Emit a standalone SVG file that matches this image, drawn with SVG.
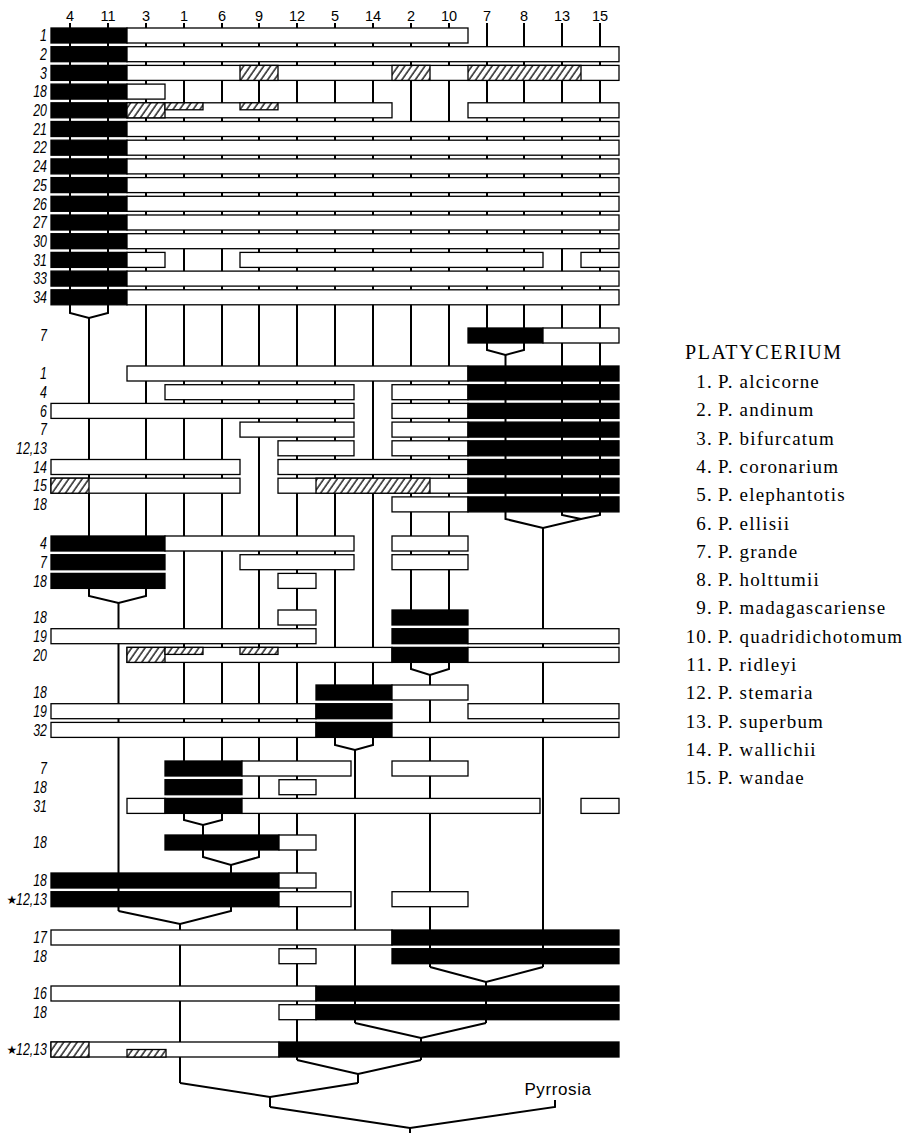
<svg xmlns="http://www.w3.org/2000/svg" width="924" height="1133" viewBox="0 0 924 1133">
<defs>
<pattern id="hatch" patternUnits="userSpaceOnUse" width="5.5" height="5.5" patternTransform="rotate(35)">
<rect width="5.5" height="5.5" fill="#fff"/>
<line x1="1" y1="0" x2="1" y2="5.5" stroke="#000" stroke-width="1.3"/>
</pattern>
</defs>
<style>
.w{fill:#fff;stroke:#000;stroke-width:1.3}
.b{fill:#000;stroke:#000;stroke-width:1.3}
.h{fill:url(#hatch);stroke:#000;stroke-width:1.3}
.v{stroke:#000;stroke-width:2;fill:none}
.k{stroke:#000;stroke-width:2;fill:none;stroke-linejoin:miter}
.hd{font-family:"Liberation Sans",Arial,sans-serif;font-size:14.5px;text-anchor:middle;fill:#000}
.lb{font-family:"Liberation Sans",Arial,sans-serif;font-size:16.5px;font-style:italic;text-anchor:end;fill:#000}
.st{font-family:"DejaVu Sans",sans-serif;font-size:12px;text-anchor:middle;fill:#000}
.lg{font-family:"Liberation Serif","Times New Roman",serif;font-size:19px;letter-spacing:1.2px;fill:#000}
.lgt{font-family:"Liberation Serif","Times New Roman",serif;font-size:20px;letter-spacing:1.6px;fill:#000}
.py{font-family:"Liberation Sans",Arial,sans-serif;font-size:17px;letter-spacing:0.6px;text-anchor:middle;fill:#000}
</style>
<rect width="924" height="1133" fill="#fff"/>

<g id="header">
<text class="hd" x="70" y="21">4</text>
<text class="hd" x="108" y="21">11</text>
<text class="hd" x="146" y="21">3</text>
<text class="hd" x="184" y="21">1</text>
<text class="hd" x="222" y="21">6</text>
<text class="hd" x="259" y="21">9</text>
<text class="hd" x="297" y="21">12</text>
<text class="hd" x="335" y="21">5</text>
<text class="hd" x="373" y="21">14</text>
<text class="hd" x="411" y="21">2</text>
<text class="hd" x="449" y="21">10</text>
<text class="hd" x="487" y="21">7</text>
<text class="hd" x="524" y="21">8</text>
<text class="hd" x="562" y="21">13</text>
<text class="hd" x="600" y="21">15</text>
</g>

<g id="connectors">
<line class="v" x1="70" y1="23" x2="70" y2="305"/>
<line class="v" x1="108" y1="23" x2="108" y2="305"/>
<line class="v" x1="146" y1="23" x2="146" y2="536"/>
<line class="v" x1="184" y1="23" x2="184" y2="761"/>
<line class="v" x1="222" y1="23" x2="222" y2="761"/>
<line class="v" x1="259" y1="23" x2="259" y2="835"/>
<line class="v" x1="297" y1="23" x2="297" y2="1060"/>
<line class="v" x1="335" y1="23" x2="335" y2="685"/>
<line class="v" x1="373" y1="23" x2="373" y2="685"/>
<line class="v" x1="411" y1="23" x2="411" y2="610"/>
<line class="v" x1="449" y1="23" x2="449" y2="610"/>
<line class="v" x1="487" y1="23" x2="487" y2="328"/>
<line class="v" x1="524" y1="23" x2="524" y2="328"/>
<line class="v" x1="562" y1="23" x2="562" y2="512"/>
<line class="v" x1="600" y1="23" x2="600" y2="512"/>
<path class="k" d="M70,305 V313 L89,318 L108,313 V305"/>
<line class="v" x1="89" y1="318" x2="89" y2="536"/>
<path class="k" d="M487,343 V350 L505.5,355 L524,350 V343"/>
<line class="v" x1="505.5" y1="355" x2="505.5" y2="512"/>
<path class="k" d="M505.5,512 V519 L543,528 L581,519 L562,515 V512 M581,519 L600,515 V512"/>
<line class="v" x1="543" y1="528" x2="543" y2="967"/>
<path class="k" d="M89,588.4 V596 L118.5,603 L146,596 V588.4"/>
<line class="v" x1="118.5" y1="603" x2="118.5" y2="911"/>
<path class="k" d="M411,662.4 V669 L430,675 L449,669 V662.4"/>
<line class="v" x1="430" y1="675" x2="430" y2="967"/>
<path class="k" d="M335,737.4 V745 L355,750 L373,745 V737.4"/>
<line class="v" x1="355" y1="750" x2="355" y2="1023"/>
<path class="k" d="M184,813.4 V820 L203,825 L222,820 V813.4"/>
<line class="v" x1="203" y1="825" x2="203" y2="835"/>
<path class="k" d="M203,850 V857 L231,865 L259,857 V850"/>
<line class="v" x1="231" y1="865" x2="231" y2="873"/>
<path class="k" d="M118.5,911 L180,924 L231,911 V906.7"/>
<line class="v" x1="180" y1="924" x2="180" y2="1083"/>
<path class="k" d="M430,967 L486,982 L543,967"/>
<line class="v" x1="486" y1="982" x2="486" y2="1023"/>
<path class="k" d="M355,1023 L421,1038 L486,1023"/>
<line class="v" x1="421" y1="1038" x2="421" y2="1060"/>
<path class="k" d="M297,1060 L358,1074 L421,1060"/>
<line class="v" x1="358" y1="1074" x2="358" y2="1083"/>
<path class="k" d="M180,1083 L270,1097 L358,1083"/>
<line class="v" x1="270" y1="1097" x2="270" y2="1107"/>
<path class="k" d="M270,1107 L410,1128 L555,1107 V1100"/>
<line class="v" x1="410" y1="1128" x2="410" y2="1133"/>
</g>

<g id="t1"><rect class="b" x="51" y="28" width="76" height="15"/><rect class="w" x="127" y="28" width="341" height="15"/><text class="lb" transform="translate(47,41.2) scale(0.75,1)">1</text></g>
<g id="t2"><rect class="b" x="51" y="46.7" width="76" height="15"/><rect class="w" x="127" y="46.7" width="492" height="15"/><text class="lb" transform="translate(47,59.9) scale(0.75,1)">2</text></g>
<g id="t3"><rect class="b" x="51" y="65.4" width="76" height="15"/><rect class="w" x="127" y="65.4" width="492" height="15"/><rect class="h" x="240" y="65.4" width="38" height="15"/><rect class="h" x="392" y="65.4" width="38" height="15"/><rect class="h" x="468" y="65.4" width="113" height="15"/><text class="lb" transform="translate(47,78.6) scale(0.75,1)">3</text></g>
<g id="t18"><rect class="b" x="51" y="84.1" width="76" height="15"/><rect class="w" x="127" y="84.1" width="38" height="15"/><text class="lb" transform="translate(47,97.3) scale(0.75,1)">18</text></g>
<g id="t20"><rect class="b" x="51" y="102.8" width="76" height="15"/><rect class="w" x="127" y="102.8" width="265" height="15"/><rect class="h" x="127" y="102.8" width="38" height="15"/><rect class="h" x="165" y="102.8" width="38" height="7"/><rect class="h" x="240" y="102.8" width="38" height="7"/><rect class="w" x="468" y="102.8" width="151" height="15"/><text class="lb" transform="translate(47,116) scale(0.75,1)">20</text></g>
<g id="t21"><rect class="b" x="51" y="121.5" width="76" height="15"/><rect class="w" x="127" y="121.5" width="492" height="15"/><text class="lb" transform="translate(47,134.7) scale(0.75,1)">21</text></g>
<g id="t22"><rect class="b" x="51" y="140.2" width="76" height="15"/><rect class="w" x="127" y="140.2" width="492" height="15"/><text class="lb" transform="translate(47,153.4) scale(0.75,1)">22</text></g>
<g id="t24"><rect class="b" x="51" y="158.9" width="76" height="15"/><rect class="w" x="127" y="158.9" width="492" height="15"/><text class="lb" transform="translate(47,172.1) scale(0.75,1)">24</text></g>
<g id="t25"><rect class="b" x="51" y="177.6" width="76" height="15"/><rect class="w" x="127" y="177.6" width="492" height="15"/><text class="lb" transform="translate(47,190.8) scale(0.75,1)">25</text></g>
<g id="t26"><rect class="b" x="51" y="196.3" width="76" height="15"/><rect class="w" x="127" y="196.3" width="492" height="15"/><text class="lb" transform="translate(47,209.5) scale(0.75,1)">26</text></g>
<g id="t27"><rect class="b" x="51" y="215" width="76" height="15"/><rect class="w" x="127" y="215" width="492" height="15"/><text class="lb" transform="translate(47,228.2) scale(0.75,1)">27</text></g>
<g id="t30"><rect class="b" x="51" y="233.7" width="76" height="15"/><rect class="w" x="127" y="233.7" width="492" height="15"/><text class="lb" transform="translate(47,246.9) scale(0.75,1)">30</text></g>
<g id="t31"><rect class="b" x="51" y="252.4" width="76" height="15"/><rect class="w" x="127" y="252.4" width="38" height="15"/><rect class="w" x="240" y="252.4" width="303" height="15"/><rect class="w" x="581" y="252.4" width="38" height="15"/><text class="lb" transform="translate(47,265.6) scale(0.75,1)">31</text></g>
<g id="t33"><rect class="b" x="51" y="271.1" width="76" height="15"/><rect class="w" x="127" y="271.1" width="492" height="15"/><text class="lb" transform="translate(47,284.3) scale(0.75,1)">33</text></g>
<g id="t34"><rect class="b" x="51" y="289.8" width="76" height="15"/><rect class="w" x="127" y="289.8" width="492" height="15"/><text class="lb" transform="translate(47,303) scale(0.75,1)">34</text></g>

<g id="s1-7"><rect class="b" x="468" y="328" width="75" height="15"/><rect class="w" x="543" y="328" width="76" height="15"/><text class="lb" transform="translate(47,341.2) scale(0.75,1)">7</text></g>

<g id="s2-1"><rect class="w" x="127" y="366" width="341" height="15"/><rect class="b" x="468" y="366" width="151" height="15"/><text class="lb" transform="translate(47,379.2) scale(0.75,1)">1</text></g>
<g id="s2-4"><rect class="w" x="165" y="384.7" width="189" height="15"/><rect class="w" x="392" y="384.7" width="76" height="15"/><rect class="b" x="468" y="384.7" width="151" height="15"/><text class="lb" transform="translate(47,397.9) scale(0.75,1)">4</text></g>
<g id="s2-6"><rect class="w" x="51" y="403.4" width="303" height="15"/><rect class="w" x="392" y="403.4" width="76" height="15"/><rect class="b" x="468" y="403.4" width="151" height="15"/><text class="lb" transform="translate(47,416.6) scale(0.75,1)">6</text></g>
<g id="s2-7"><rect class="w" x="240" y="422.1" width="114" height="15"/><rect class="w" x="392" y="422.1" width="76" height="15"/><rect class="b" x="468" y="422.1" width="151" height="15"/><text class="lb" transform="translate(47,435.3) scale(0.75,1)">7</text></g>
<g id="s2-1213"><rect class="w" x="278" y="440.8" width="76" height="15"/><rect class="w" x="392" y="440.8" width="76" height="15"/><rect class="b" x="468" y="440.8" width="151" height="15"/><text class="lb" transform="translate(47,454) scale(0.75,1)">12,13</text></g>
<g id="s2-14"><rect class="w" x="51" y="459.5" width="189" height="15"/><rect class="w" x="278" y="459.5" width="190" height="15"/><rect class="b" x="468" y="459.5" width="151" height="15"/><text class="lb" transform="translate(47,472.7) scale(0.75,1)">14</text></g>
<g id="s2-15"><rect class="w" x="51" y="478.2" width="189" height="15"/><rect class="h" x="51" y="478.2" width="38" height="15"/><rect class="w" x="278" y="478.2" width="190" height="15"/><rect class="h" x="316" y="478.2" width="114" height="15"/><rect class="b" x="468" y="478.2" width="151" height="15"/><text class="lb" transform="translate(47,491.4) scale(0.75,1)">15</text></g>
<g id="s2-18"><rect class="w" x="392" y="496.9" width="76" height="15"/><rect class="b" x="468" y="496.9" width="151" height="15"/><text class="lb" transform="translate(47,510.1) scale(0.75,1)">18</text></g>

<g id="s3-4"><rect class="b" x="51" y="536" width="114" height="15"/><rect class="w" x="165" y="536" width="189" height="15"/><rect class="w" x="392" y="536" width="76" height="15"/><text class="lb" transform="translate(47,549.2) scale(0.75,1)">4</text></g>
<g id="s3-7"><rect class="b" x="51" y="554.7" width="114" height="15"/><rect class="w" x="240" y="554.7" width="114" height="15"/><rect class="w" x="392" y="554.7" width="76" height="15"/><text class="lb" transform="translate(47,567.9) scale(0.75,1)">7</text></g>
<g id="s3-18"><rect class="b" x="51" y="573.4" width="114" height="15"/><rect class="w" x="278" y="573.4" width="38" height="15"/><text class="lb" transform="translate(47,586.6) scale(0.75,1)">18</text></g>

<g id="s4-18"><rect class="w" x="278" y="610" width="38" height="15"/><rect class="b" x="392" y="610" width="76" height="15"/><text class="lb" transform="translate(47,623.2) scale(0.75,1)">18</text></g>
<g id="s4-19"><rect class="w" x="51" y="628.7" width="265" height="15"/><rect class="b" x="392" y="628.7" width="76" height="15"/><rect class="w" x="468" y="628.7" width="151" height="15"/><text class="lb" transform="translate(47,641.9) scale(0.75,1)">19</text></g>
<g id="s4-20"><rect class="w" x="127" y="647.4" width="265" height="15"/><rect class="h" x="127" y="647.4" width="38" height="15"/><rect class="h" x="165" y="647.4" width="38" height="7"/><rect class="h" x="240" y="647.4" width="38" height="7"/><rect class="b" x="392" y="647.4" width="76" height="15"/><rect class="w" x="468" y="647.4" width="151" height="15"/><text class="lb" transform="translate(47,660.6) scale(0.75,1)">20</text></g>

<g id="s5-18"><rect class="b" x="316" y="685" width="76" height="15"/><rect class="w" x="392" y="685" width="76" height="15"/><text class="lb" transform="translate(47,698.2) scale(0.75,1)">18</text></g>
<g id="s5-19"><rect class="w" x="51" y="703.7" width="265" height="15"/><rect class="b" x="316" y="703.7" width="76" height="15"/><rect class="w" x="468" y="703.7" width="151" height="15"/><text class="lb" transform="translate(47,716.9) scale(0.75,1)">19</text></g>
<g id="s5-32"><rect class="w" x="51" y="722.4" width="265" height="15"/><rect class="b" x="316" y="722.4" width="76" height="15"/><rect class="w" x="392" y="722.4" width="227" height="15"/><text class="lb" transform="translate(47,735.6) scale(0.75,1)">32</text></g>

<g id="s6-7"><rect class="b" x="165" y="761" width="77" height="15"/><rect class="w" x="242" y="761" width="109" height="15"/><rect class="w" x="392" y="761" width="76" height="15"/><text class="lb" transform="translate(47,774.2) scale(0.75,1)">7</text></g>
<g id="s6-18"><rect class="b" x="165" y="779.7" width="77" height="15"/><rect class="w" x="279" y="779.7" width="37" height="15"/><text class="lb" transform="translate(47,792.9) scale(0.75,1)">18</text></g>
<g id="s6-31"><rect class="w" x="127" y="798.4" width="38" height="15"/><rect class="b" x="165" y="798.4" width="77" height="15"/><rect class="w" x="242" y="798.4" width="298" height="15"/><rect class="w" x="581" y="798.4" width="38" height="15"/><text class="lb" transform="translate(47,811.6) scale(0.75,1)">31</text></g>

<g id="s7-18"><rect class="b" x="165" y="835" width="114" height="15"/><rect class="w" x="279" y="835" width="37" height="15"/><text class="lb" transform="translate(47,848.2) scale(0.75,1)">18</text></g>

<g id="s8-18"><rect class="b" x="51" y="873" width="228" height="15"/><rect class="w" x="279" y="873" width="37" height="15"/><text class="lb" transform="translate(47,886.2) scale(0.75,1)">18</text></g>
<g id="s8-1213"><rect class="b" x="51" y="891.7" width="228" height="15"/><rect class="w" x="279" y="891.7" width="72" height="15"/><rect class="w" x="392" y="891.7" width="76" height="15"/><text class="st" x="12" y="903.8">★</text><text class="lb" transform="translate(47,904.9) scale(0.75,1)">12,13</text></g>

<g id="s9-17"><rect class="w" x="51" y="930" width="341" height="15"/><rect class="b" x="392" y="930" width="227" height="15"/><text class="lb" transform="translate(47,943.2) scale(0.75,1)">17</text></g>
<g id="s9-18"><rect class="w" x="279" y="948.7" width="37" height="15"/><rect class="b" x="392" y="948.7" width="227" height="15"/><text class="lb" transform="translate(47,961.9) scale(0.75,1)">18</text></g>
<g id="s10-16"><rect class="w" x="51" y="986" width="265" height="15"/><rect class="b" x="316" y="986" width="303" height="15"/><text class="lb" transform="translate(47,999.2) scale(0.75,1)">16</text></g>
<g id="s10-18"><rect class="w" x="279" y="1004.7" width="37" height="15"/><rect class="b" x="316" y="1004.7" width="303" height="15"/><text class="lb" transform="translate(47,1017.9) scale(0.75,1)">18</text></g>
<g id="s11-1213"><rect class="w" x="51" y="1042" width="228" height="15"/><rect class="h" x="51" y="1042" width="38" height="15"/><rect class="h" x="127" y="1049.5" width="39" height="7.5"/><rect class="b" x="279" y="1042" width="340" height="15"/><text class="st" x="12" y="1054.1">★</text><text class="lb" transform="translate(47,1055.2) scale(0.75,1)">12,13</text></g>

<g id="pyrrosia"><text class="py" x="558" y="1095">Pyrrosia</text></g>

<g id="legend">
<text class="lgt" x="685" y="359">PLATYCERIUM</text>
<g class="lg">
<text x="713" y="388" text-anchor="end">1.</text><text x="718" y="388">P. alcicorne</text>
<text x="713" y="416.3" text-anchor="end">2.</text><text x="718" y="416.3">P. andinum</text>
<text x="713" y="444.6" text-anchor="end">3.</text><text x="718" y="444.6">P. bifurcatum</text>
<text x="713" y="472.9" text-anchor="end">4.</text><text x="718" y="472.9">P. coronarium</text>
<text x="713" y="501.2" text-anchor="end">5.</text><text x="718" y="501.2">P. elephantotis</text>
<text x="713" y="529.5" text-anchor="end">6.</text><text x="718" y="529.5">P. ellisii</text>
<text x="713" y="557.8" text-anchor="end">7.</text><text x="718" y="557.8">P. grande</text>
<text x="713" y="586.1" text-anchor="end">8.</text><text x="718" y="586.1">P. holttumii</text>
<text x="713" y="614.4" text-anchor="end">9.</text><text x="718" y="614.4">P. madagascariense</text>
<text x="713" y="642.7" text-anchor="end">10.</text><text x="718" y="642.7">P. quadridichotomum</text>
<text x="713" y="671" text-anchor="end">11.</text><text x="718" y="671">P. ridleyi</text>
<text x="713" y="699.3" text-anchor="end">12.</text><text x="718" y="699.3">P. stemaria</text>
<text x="713" y="727.6" text-anchor="end">13.</text><text x="718" y="727.6">P. superbum</text>
<text x="713" y="755.9" text-anchor="end">14.</text><text x="718" y="755.9">P. wallichii</text>
<text x="713" y="784.2" text-anchor="end">15.</text><text x="718" y="784.2">P. wandae</text>
</g>
</g>
</svg>
